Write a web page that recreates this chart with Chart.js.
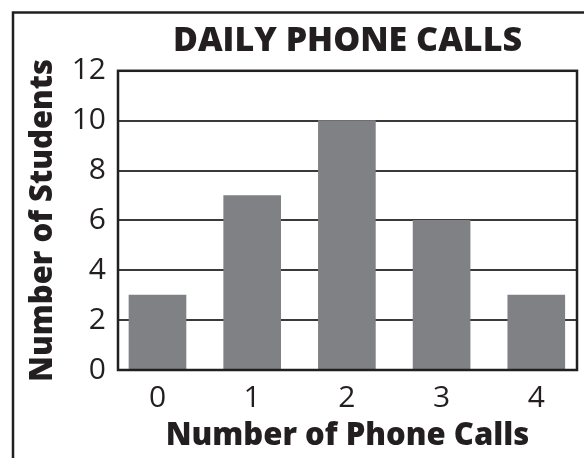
<!DOCTYPE html>
<html>
<head>
<meta charset="utf-8">
<script src="https://cdn.jsdelivr.net/npm/chart.js@4"></script>
<style>
  html, body { margin: 0; padding: 0; background: #fff; }
  #wrap { width: 584px; height: 458px; }
</style>
</head>
<body>
<div id="wrap"><canvas id="chart" width="584" height="458"></canvas></div>
<script>
// values
const calls = [0, 1, 2, 3, 4];
const students = [3, 7, 10, 6, 3];
const yTicks = [0, 2, 4, 6, 8, 10, 12];

const ink = '#231f20';
const barGray = '#808184';
const fontFamily = '"Open Sans", "Noto Sans", sans-serif';

// outer frame and plot box
const framePlugin = {
    id: 'frame',
    beforeDraw(chart) {
        const ctx = chart.ctx;
        ctx.save();
        ctx.fillStyle = '#fff';
        ctx.fillRect(0, 0, chart.width, chart.height);
        ctx.strokeStyle = ink;
        ctx.lineWidth = 2.5;
        ctx.strokeRect(13, 12.5, chart.width + 20, chart.height + 20);
        ctx.restore();
    },
    afterDatasetsDraw(chart) {
        const { ctx, chartArea: { left, right, top, bottom } } = chart;
        ctx.save();
        ctx.strokeStyle = ink;
        ctx.lineWidth = 2.5;
        ctx.strokeRect(left, top, right - left, bottom - top);
        ctx.restore();
    }
};

const ctx = document.getElementById('chart').getContext('2d');
new Chart(ctx, {
    type: 'bar',
    data: {
        datasets: [{
            data: calls.map((c, i) => ({ x: c, y: students[i] })),
            backgroundColor: barGray,
            borderWidth: 0,
            barThickness: 57
        }]
    },
    options: {
        responsive: false,
        animation: false,
        layout: { padding: { left: 12, right: 7, top: 0, bottom: 0 } },
        plugins: {
            legend: { display: false },
            tooltip: { enabled: false },
            title: {
                display: true,
                fullSize: false,
                text: 'DAILY PHONE CALLS',
                color: ink,
                font: { family: fontFamily, size: 34, weight: '800' },
                padding: { top: 21, bottom: 9 }
            }
        },
        scales: {
            x: {
                type: 'linear',
                offset: false,
                min: -0.417,
                max: 4.43,
                afterBuildTicks: axis => { axis.ticks = calls.map(v => ({ value: v })); },
                afterFit: scale => { scale.height = 88; },
                grid: { display: false, drawTicks: false },
                border: { display: false },
                ticks: {
                    color: ink,
                    padding: 10,
                    maxRotation: 0,
                    font: { family: fontFamily, size: 30 }
                },
                title: {
                    display: true,
                    text: 'Number of Phone Calls',
                    color: ink,
                    font: { family: fontFamily, size: 31, weight: '800' },
                    padding: { top: 0, bottom: 3 }
                }
            },
            y: {
                min: 0,
                max: 12,
                afterBuildTicks: axis => { axis.ticks = yTicks.map(v => ({ value: v })); },
                afterFit: scale => { scale.width = 106; },
                grid: { color: '#3a3a3a', lineWidth: 2, drawTicks: false },
                border: { display: false },
                ticks: {
                    color: ink,
                    padding: 12,
                    font: { family: fontFamily, size: 30 }
                },
                title: {
                    display: true,
                    text: 'Number of Students',
                    color: ink,
                    font: { family: fontFamily, size: 31, weight: '800' },
                    padding: { top: 13, bottom: 0 }
                }
            }
        }
    },
    plugins: [framePlugin]
});
</script>
</body>
</html>
